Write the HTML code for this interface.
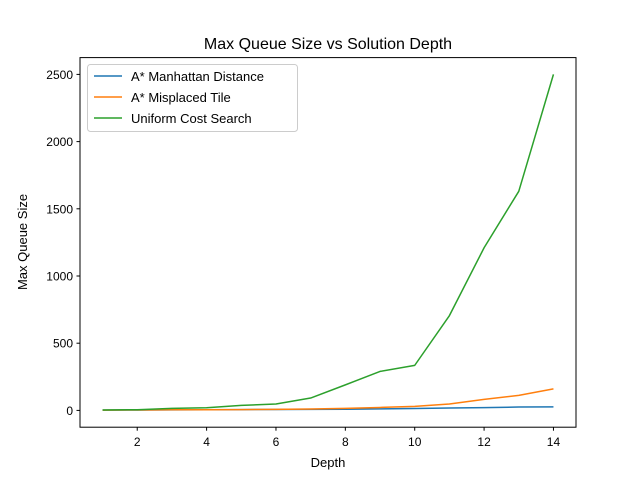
<!DOCTYPE html>
<html><head><meta charset="utf-8"><style>
body{margin:0;background:#fff;}
svg{font-family:"Liberation Sans","DejaVu Sans",sans-serif;}
</style></head><body>
<svg id="chart" width="640" height="480" xmlns="http://www.w3.org/2000/svg">
<rect width="640" height="480" fill="#fff"/>
<text x="328" y="49" text-anchor="middle" font-size="16">Max Queue Size vs Solution Depth</text>
<g id="plot"></g>
<rect x="80" y="57.6" width="496" height="369.6" fill="none" stroke="#000" stroke-width="1"/>
<text x="328" y="467" text-anchor="middle" font-size="13">Depth</text>
<text transform="translate(27,242) rotate(-90)" text-anchor="middle" font-size="13">Max Queue Size</text>
<g>
<rect x="87.5" y="64.5" width="210" height="67" rx="3" fill="#fff" fill-opacity="0.8" stroke="#ccc"/>
<line x1="94" y1="76" x2="122" y2="76" stroke="#1f77b4" stroke-width="1.5"/>
<text x="131" y="81" font-size="13">A* Manhattan Distance</text>
<line x1="94" y1="97" x2="122" y2="97" stroke="#ff7f0e" stroke-width="1.5"/>
<text x="131" y="102" font-size="13">A* Misplaced Tile</text>
<line x1="94" y1="118" x2="122" y2="118" stroke="#2ca02c" stroke-width="1.5"/>
<text x="131" y="123" font-size="13">Uniform Cost Search</text>
</g>
</svg>
<script>
const depths=[1,2,3,4,5,6,7,8,9,10,11,12,13,14];
const manhattan=[2,3,4,5,6,7,8,9,11,14,18,21,25,26];
const misplaced=[2,3,5,5,6,8,10,15,22,30,48,82,112,160];
const ucs=[3,5,15,20,37,48,92,190,290,335,705,1210,1630,2500];
const xTicks=[2,4,6,8,10,12,14];
const yTicks=[0,500,1000,1500,2000,2500];
const NS="http://www.w3.org/2000/svg";
const x0=0.35,x1=14.65,y0=-125,y1=2625;
function sx(v){return 80+(v-x0)/(x1-x0)*496;}
function sy(v){return 427.2-(v-y0)/(y1-y0)*369.6;}
const g=document.getElementById('plot');
function mk(t,a){const e=document.createElementNS(NS,t);for(const k in a)e.setAttribute(k,a[k]);g.appendChild(e);return e;}
xTicks.forEach(v=>{
 const l=mk('line',{x1:sx(v),x2:sx(v),y1:427.2,y2:430.7,stroke:'#000'});
 
 
 const t=mk('text',{x:sx(v),y:446,'text-anchor':'middle','font-size':12});
 t.textContent=v;
 
 
});
yTicks.forEach(v=>{
 const l=mk('line',{x1:76.5,x2:80,y1:sy(v),y2:sy(v),stroke:'#000'});
 
 
 const t=mk('text',{x:73,y:sy(v)+4.5,'text-anchor':'end','font-size':12});
 t.textContent=v;
 
 
});
function series(vals,color,name){
 const p=mk('polyline',{points:vals.map((v,i)=>sx(depths[i])+','+sy(v)).join(' '),fill:'none',stroke:color,'stroke-width':1.5,'stroke-linejoin':'round'});
 
 
}
series(manhattan,'#1f77b4','line-manhattan');
series(misplaced,'#ff7f0e','line-misplaced');
series(ucs,'#2ca02c','line-ucs');
</script>
</body></html>
